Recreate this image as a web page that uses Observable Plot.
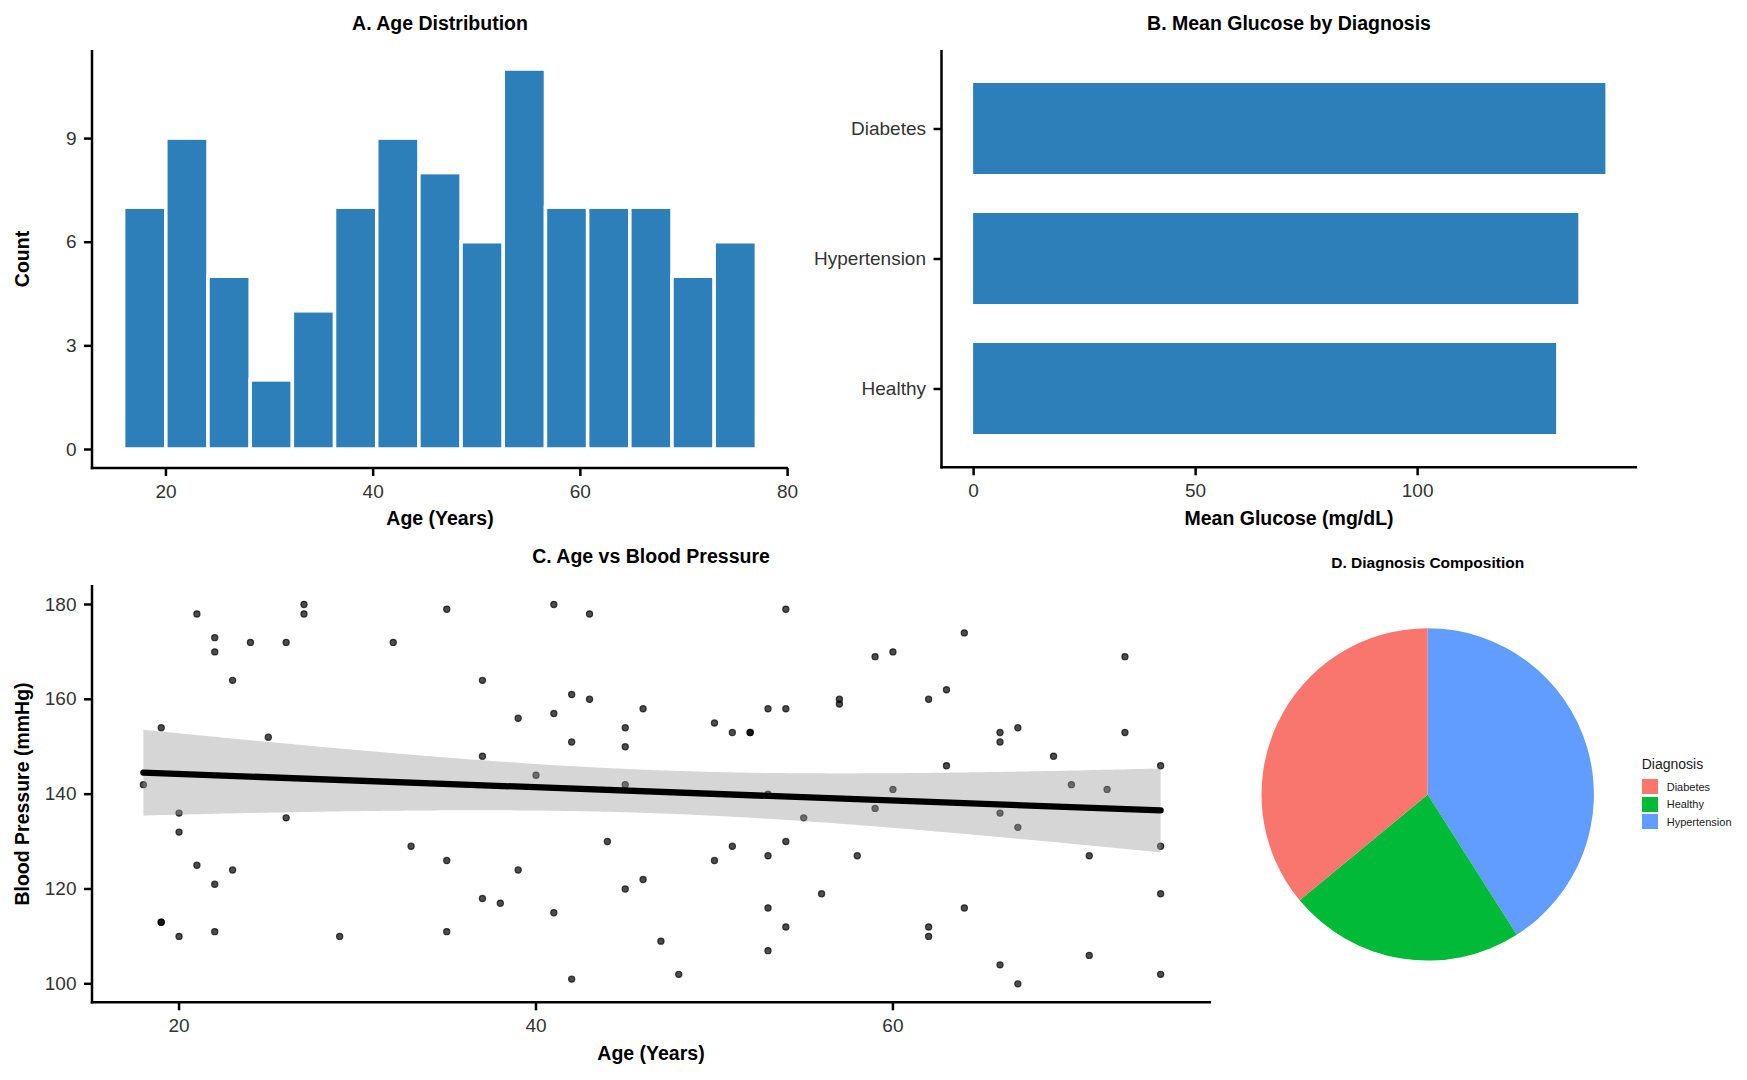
<!DOCTYPE html>
<html><head><meta charset="utf-8">
<script src="https://cdn.jsdelivr.net/npm/d3@7"></script>
<script src="https://cdn.jsdelivr.net/npm/@observablehq/plot@0.6"></script>
<style>
body{margin:0;background:#fff;}
#root{position:relative;width:1747px;height:1080px;overflow:hidden;font-family:"Liberation Sans",Arial,Helvetica,sans-serif;background:#fff;}
.t{position:absolute;transform:translate(-50%,-50%);white-space:nowrap;font-weight:bold;color:#000;line-height:1;}
.rot{transform:translate(-50%,-50%) rotate(-90deg);}
.leg{position:absolute;font-family:"Liberation Sans",Arial,Helvetica,sans-serif;color:#1a1a1a;}
.leg .row{position:absolute;left:0;height:15px;white-space:nowrap;}
.leg .sw{position:absolute;left:0;top:0;width:16px;height:15px;}
.leg .lb{position:absolute;left:25px;top:50%;transform:translateY(-50%);font-size:11px;line-height:1;}
</style></head>
<body><div id="root"></div>
<script>
// ---------------- data ----------------
const ages = [18,19,19,19,20,20,20,21,21,22,22,22,22,23,23,24,25,26,26,27,27,29,32,33,35,35,35,37,37,37,38,39,39,40,41,41,41,42,42,42,43,43,44,45,45,45,45,46,46,47,48,50,50,51,51,52,52,53,53,53,53,53,54,54,54,54,55,56,57,57,58,59,59,60,60,62,62,62,63,63,64,64,66,66,66,66,67,67,67,69,70,71,71,72,73,73,75,75,75,75];
const bps  = [142,154,113,113,136,132,110,178,125,173,170,121,111,164,124,172,152,172,135,180,178,110,172,129,179,126,111,164,148,118,117,156,124,144,180,157,115,161,151,101,178,160,130,154,150,142,120,158,122,109,102,155,126,153,129,153,153,158,140,127,116,107,179,158,130,112,135,119,160,159,127,169,137,170,141,160,112,110,162,146,174,116,153,151,136,104,154,133,100,148,142,127,106,141,169,153,146,129,119,102];

const diagnoses   = ["Diabetes","Healthy","Hypertension"];
const diagCounts  = [36, 23, 41];
const pieColors   = ["#F8766D","#00BA38","#619CFF"];

const glucoseCats  = ["Diabetes","Hypertension","Healthy"];
const glucoseMeans = [142.4, 136.3, 131.3];

const histTicksX = [20,40,60,80], histTicksY = [0,3,6,9];
const glucTicksX = [0,50,100];
const scatTicksX = [20,40,60], scatTicksY = [100,120,140,160,180];

const barColor = "#2C7FB8";

// ---------------- helpers ----------------
const root = document.getElementById("root");
const FONT = '"Liberation Sans", Arial, Helvetica, sans-serif';
const baseStyle = {fontFamily: FONT, fontSize: "19px", background: "transparent", overflow: "visible", color: "#000"};
const AXW = 2.5;
function place(el, left, top){ el.style.position = "absolute"; el.style.left = left + "px"; el.style.top = top + "px"; root.appendChild(el); return el; }
function text(str, x, y, size, cls){ const d = document.createElement("div"); d.className = "t" + (cls ? " " + cls : ""); d.textContent = str; d.style.left = x + "px"; d.style.top = y + "px"; d.style.fontSize = size + "px"; root.appendChild(d); return d; }
// L-shaped axis lines (left + bottom) drawn inside Plot
const axisLines = (index, scales, values, dims) => {
  const {width, height, marginLeft, marginRight, marginTop, marginBottom} = dims;
  const g = d3.create("svg:g");
  g.append("line").attr("x1", marginLeft).attr("x2", marginLeft).attr("y1", marginTop).attr("y2", height - marginBottom + AXW/2)
    .attr("stroke", "#000").attr("stroke-width", AXW);
  g.append("line").attr("x1", marginLeft - AXW/2).attr("x2", width - marginRight).attr("y1", height - marginBottom).attr("y2", height - marginBottom)
    .attr("stroke", "#000").attr("stroke-width", AXW);
  return g.node();
};
const axOpts = {tickSize: 8, tickPadding: 8, strokeWidth: AXW, stroke: "#000", fill: "#333", fontSize: 19, label: null};
const expand = (lo, hi, f = 0.05) => [lo - (hi - lo) * f, hi + (hi - lo) * f];

// ---------------- Panel A: histogram ----------------
const aMin = d3.min(ages), aMax = d3.max(ages);
const binW = (aMax - aMin) / 14;
const edges = d3.range(16).map(i => aMin - binW / 2 + i * binW);
const maxCount = d3.max(d3.bin().domain([edges[0], edges[15]]).thresholds(edges)(ages), b => b.length);

const plotA = Plot.plot({
  width: 800, height: 540, marginLeft: 92, marginRight: 12, marginTop: 50, marginBottom: 72,
  style: baseStyle,
  x: {domain: expand(edges[0], edges[15])},
  y: {domain: expand(0, maxCount)},
  marks: [
    Plot.rectY(ages, Plot.binX({y: "count"}, {x: d => d, thresholds: edges, fill: barColor, stroke: "#fff", strokeWidth: 3.5, inset: 0})),
    Plot.axisX({...axOpts, ticks: histTicksX}),
    Plot.axisY({...axOpts, ticks: histTicksY}),
    axisLines
  ]
});
place(plotA, 0, 0);
text("A. Age Distribution", 440, 23.5, 19.5);
text("Age (Years)", 440, 519, 19.5);
text("Count", 23.3, 259, 19.5, "rot");

// ---------------- Panel B: bar chart ----------------
const glucose = glucoseCats.map((c, i) => ({diag: c, mean: glucoseMeans[i]}));
const plotB = Plot.plot({
  width: 947, height: 540, marginLeft: 141.5, marginRight: 110, marginTop: 50, marginBottom: 72.7,
  style: baseStyle,
  x: {domain: expand(0, d3.max(glucoseMeans))},
  y: {domain: glucoseCats, paddingInner: 0.3, paddingOuter: 0.25, align: 0.5},
  marks: [
    Plot.barX(glucose, {x: "mean", y: "diag", fill: barColor}),
    Plot.axisX({...axOpts, ticks: glucTicksX}),
    Plot.axisY({...axOpts}),
    axisLines
  ]
});
place(plotB, 800, 0);
text("B. Mean Glucose by Diagnosis", 1289, 23.5, 19.5);
text("Mean Glucose (mg/dL)", 1289, 519, 19.5);

// ---------------- Panel C: scatter ----------------
const points = ages.map((a, i) => ({age: a, bp: bps[i]}));
const plotC = Plot.plot({
  width: 1240, height: 540, marginLeft: 92, marginRight: 29, marginTop: 45, marginBottom: 77.7,
  style: baseStyle,
  x: {domain: expand(aMin, aMax)},
  y: {domain: expand(d3.min(bps), d3.max(bps))},
  marks: [
    Plot.dot(points, {x: "age", y: "bp", r: 3.1, fill: "#000", fillOpacity: 0.7, stroke: "#000", strokeOpacity: 0.7, strokeWidth: 1.2}),
    Plot.linearRegressionY(points, {x: "age", y: "bp", ci: 0.95, stroke: "#000", strokeWidth: 6.3, fill: "#999999", fillOpacity: 0.4}),
    Plot.axisX({...axOpts, ticks: scatTicksX}),
    Plot.axisY({...axOpts, ticks: scatTicksY}),
    axisLines
  ]
});
place(plotC, 0, 540);
text("C. Age vs Blood Pressure", 651, 557, 19.5);
text("Age (Years)", 651, 1053.7, 19.5);
text("Blood Pressure (mmHg)", 23.3, 793.5, 19.5, "rot");

// ---------------- Panel D: pie ----------------
const pieData = diagnoses.map((d, i) => ({diag: d, n: diagCounts[i], color: pieColors[i]})).reverse();
const PW = 380, PH = 390, PCX = 187.7, PCY = 194.4, PR = 166.2;
const pieMark = () => {
  const g = d3.create("svg:g").attr("transform", `translate(${PCX},${PCY})`);
  const arcs = d3.pie().sort(null).value(d => d.n)(pieData);
  const arc = d3.arc().innerRadius(0).outerRadius(PR);
  g.selectAll("path").data(arcs).join("path").attr("d", arc).attr("fill", d => d.data.color);
  return g.node();
};
const plotD = Plot.plot({
  width: PW, height: PH, margin: 0, style: baseStyle,
  x: {domain: [0, 1], axis: null}, y: {domain: [0, 1], axis: null},
  marks: [pieMark]
});
place(plotD, 1240, 600);
text("D. Diagnosis Composition", 1427.7, 563.3, 15.5);

// legend
const leg = document.createElement("div");
leg.className = "leg";
leg.style.left = "1641.7px"; leg.style.top = "757px";
const lt = document.createElement("div");
lt.textContent = "Diagnosis";
lt.style.cssText = "position:absolute;left:0;top:0;font-size:14px;line-height:1;white-space:nowrap;";
leg.appendChild(lt);
diagnoses.forEach((d, i) => {
  const row = document.createElement("div");
  row.className = "row";
  row.style.top = (22.3 + i * 17.4) + "px";
  const sw = document.createElement("div"); sw.className = "sw"; sw.style.background = pieColors[i];
  const lb = document.createElement("div"); lb.className = "lb"; lb.textContent = d;
  row.appendChild(sw); row.appendChild(lb); leg.appendChild(row);
});
root.appendChild(leg);
</script>
</body></html>
